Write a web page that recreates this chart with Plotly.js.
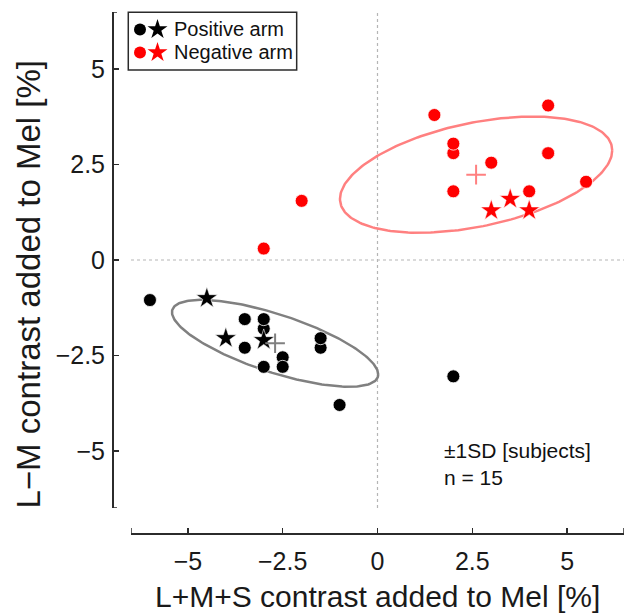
<!DOCTYPE html>
<html><head><meta charset="utf-8">
<script src="https://cdn.plot.ly/plotly-3.0.1.min.js"></script>
<style>html,body{margin:0;padding:0;background:#fff}</style>
</head><body><div id="chart" style="width:627px;height:615px"></div>
<script>
// Positive arm (black)
const posDotX = [-6, -3.5, -3, -3, -3.5, -2.5, -2.5, -3, -1.5, -1.5, -1, 2];
const posDotY = [-1.05, -1.55, -1.8, -1.55, -2.3, -2.55, -2.8, -2.8, -2.3, -2.05, -3.8, -3.05];
const posStarX = [-4.5, -4, -3];
const posStarY = [-1.0, -2.05, -2.1];
// Negative arm (red)
const negDotX = [1.5, 4.5, 2, 2, 3, 4.5, 4.5, 5.5, 2, 4, -2, -3];
const negDotY = [3.8, 4.05, 2.8, 3.05, 2.55, 2.8, 2.8, 2.05, 1.8, 1.8, 1.55, 0.3];
const negStarX = [3, 3.5, 4];
const negStarY = [1.3, 1.6, 1.3];
// Axis ticks
const tickVals = [-5, -2.5, 0, 2.5, 5];
const tickText = ['\u22125', '\u22122.5', '0', '2.5', '5'];
const legendLabels = ['Positive arm', 'Negative arm'];
const noteLabel = '\u00b11SD [subjects]';

const K = 1.51; // ellipse scale
function stats(xs, ys) {
  const n = xs.length;
  const mx = xs.reduce((a, b) => a + b, 0) / n;
  const my = ys.reduce((a, b) => a + b, 0) / n;
  let a = 0, b = 0, c = 0;
  for (let i = 0; i < n; i++) {
    const dx = xs[i] - mx, dy = ys[i] - my;
    a += dx * dx; b += dx * dy; c += dy * dy;
  }
  return {mx, my, a: a / (n - 1), b: b / (n - 1), c: c / (n - 1)};
}
function ellipse(s) {
  const sa = Math.sqrt(s.a), l21 = s.b / sa, l22 = Math.sqrt(s.c - l21 * l21);
  const ex = [], ey = [];
  for (let i = 0; i <= 240; i++) {
    const t = 2 * Math.PI * i / 240;
    ex.push(s.mx + K * sa * Math.cos(t));
    ey.push(s.my + K * (l21 * Math.cos(t) + l22 * Math.sin(t)));
  }
  return {ex, ey};
}
const posX = posDotX.concat(posStarX), posY = posDotY.concat(posStarY);
const negX = negDotX.concat(negStarX), negY = negDotY.concat(negStarY);
const sPos = stats(posX, posY), sNeg = stats(negX, negY);
const ePos = ellipse(sPos), eNeg = ellipse(sNeg);

const GRAY = 'rgb(128,128,128)', PINK = 'rgb(255,128,128)';
const dot = (c) => ({symbol: 'circle', size: 13, color: c, line: {color: '#fff', width: 0.8}});
const star = (c) => ({symbol: 'star', size: 16, color: c, line: {color: '#fff', width: 0.6}});

const traces = [
  {type: 'scatter', mode: 'lines', x: ePos.ex, y: ePos.ey, line: {color: GRAY, width: 2.5}, hoverinfo: 'skip'},
  {type: 'scatter', mode: 'lines', x: eNeg.ex, y: eNeg.ey, line: {color: PINK, width: 2.5}, hoverinfo: 'skip'},
  {type: 'scatter', mode: 'markers', x: posDotX, y: posDotY, marker: dot('#000')},
  {type: 'scatter', mode: 'markers', x: posStarX, y: posStarY, marker: star('#000')},
  {type: 'scatter', mode: 'markers', x: negDotX, y: negDotY, marker: dot('#ff0000')},
  {type: 'scatter', mode: 'markers', x: negStarX, y: negStarY, marker: star('#ff0000')},
  {type: 'scatter', mode: 'markers', x: [sPos.mx], y: [sPos.my], marker: {symbol: 'cross-thin', size: 14, line: {color: GRAY, width: 2}}},
  {type: 'scatter', mode: 'markers', x: [sNeg.mx], y: [sNeg.my], marker: {symbol: 'cross-thin', size: 14, line: {color: PINK, width: 2}}},
  // legend keys (pixel-space overlay axes)
  {type: 'scatter', mode: 'markers', xaxis: 'x2', yaxis: 'y2', x: [28, 28], y: [17.5, 40.5], marker: {symbol: 'circle', size: 12, color: ['#000', '#ff0000']}},
  {type: 'scatter', mode: 'markers', xaxis: 'x2', yaxis: 'y2', x: [45.5, 45.5], y: [17.5, 40.5], marker: {symbol: 'star', size: 15, color: ['#000', '#ff0000']}}
];

const AX = '#2b2b2b';
const FONT = '"Liberation Sans", Arial, Helvetica, sans-serif';
const layout = {
  width: 627, height: 615,
  margin: {l: 112, r: 3, t: 12, b: 82, pad: 0},
  paper_bgcolor: '#fff', plot_bgcolor: 'rgba(0,0,0,0)',
  showlegend: false,
  font: {family: FONT, color: '#1a1a1a'},
  xaxis: {range: [-6.5, 6.5], domain: [0.0371, 1], anchor: 'free', position: 0,
    tickvals: tickVals, ticktext: tickText, ticks: 'inside', ticklen: 5, tickwidth: 1.5, tickcolor: AX,
    showline: true, linecolor: AX, linewidth: 1.5, showgrid: false, zeroline: false,
    tickfont: {size: 25, family: FONT, color: '#1a1a1a'}, ticklabelstandoff: 5, fixedrange: true},
  yaxis: {range: [-6.5, 6.5], domain: [0.048, 1], anchor: 'free', position: 0,
    tickvals: tickVals, ticktext: tickText, ticks: 'inside', ticklen: 5, tickwidth: 1.5, tickcolor: AX,
    showline: true, linecolor: AX, linewidth: 1.5, showgrid: false, zeroline: false,
    tickfont: {size: 25, family: FONT, color: '#1a1a1a'}, ticklabelstandoff: 2, fixedrange: true},
  xaxis2: {domain: [0, 1], range: [0, 512], anchor: 'y2', visible: false, fixedrange: true},
  yaxis2: {domain: [0, 1], range: [521, 0], anchor: 'x2', visible: false, fixedrange: true},
  shapes: [
    {type: 'line', xref: 'x', yref: 'y', x0: 0, x1: 0, y0: -6.5, y1: 6.5, layer: 'below', line: {color: '#b5b5b5', width: 1.2, dash: 'dot'}},
    {type: 'line', xref: 'x', yref: 'y', x0: -6.5, x1: 6.5, y0: 0, y1: 0, layer: 'below', line: {color: '#b5b5b5', width: 1.2, dash: 'dot'}},
    {type: 'rect', xref: 'paper', yref: 'paper', x0: 0.0318, x1: 0.3607, y0: 0.8887, y1: 0.9994, line: {color: AX, width: 1.5}, fillcolor: 'rgba(0,0,0,0)'},
    {type: 'line', xref: 'x', yref: 'paper', x0: -6.5, x1: -6.5, y0: 0, y1: 0.0096, line: {color: AX, width: 1.5}},
    {type: 'line', xref: 'x', yref: 'paper', x0: 6.5, x1: 6.5, y0: 0, y1: 0.0096, line: {color: AX, width: 1.5}},
    {type: 'line', xref: 'paper', yref: 'y', x0: 0, x1: 0.0098, y0: 6.5, y1: 6.5, line: {color: AX, width: 1.5}},
    {type: 'line', xref: 'paper', yref: 'y', x0: 0, x1: 0.0098, y0: -6.5, y1: -6.5, line: {color: AX, width: 1.5}}
  ],
  annotations: [
    {text: 'L+M+S contrast added to Mel [%]', xref: 'paper', yref: 'paper', x: 0.5195, y: -0.1210, xanchor: 'center', yanchor: 'middle', showarrow: false, font: {size: 30, family: FONT, color: '#1a1a1a'}},
    {text: 'L\u2212M contrast added to Mel [%]', xref: 'paper', yref: 'paper', x: -0.164, y: 0.477, xanchor: 'center', yanchor: 'middle', textangle: -90, showarrow: false, font: {size: 33, family: FONT, color: '#1a1a1a'}},
    {text: legendLabels[0], xref: 'paper', yref: 'paper', x: 0.1166, y: 0.9668, xanchor: 'left', yanchor: 'middle', showarrow: false, font: {size: 20, family: FONT, color: '#111'}},
    {text: legendLabels[1], xref: 'paper', yref: 'paper', x: 0.1166, y: 0.9226, xanchor: 'left', yanchor: 'middle', showarrow: false, font: {size: 20, family: FONT, color: '#111'}},
    {text: noteLabel, xref: 'paper', yref: 'paper', x: 0.644, y: 0.159, xanchor: 'left', yanchor: 'middle', showarrow: false, font: {size: 21, family: FONT, color: '#111'}},
    {text: 'n = ' + posX.length, xref: 'paper', yref: 'paper', x: 0.644, y: 0.1056, xanchor: 'left', yanchor: 'middle', showarrow: false, font: {size: 21, family: FONT, color: '#111'}}
  ]
};
Plotly.newPlot('chart', traces, layout, {staticPlot: true, displayModeBar: false});
</script>
</body></html>
